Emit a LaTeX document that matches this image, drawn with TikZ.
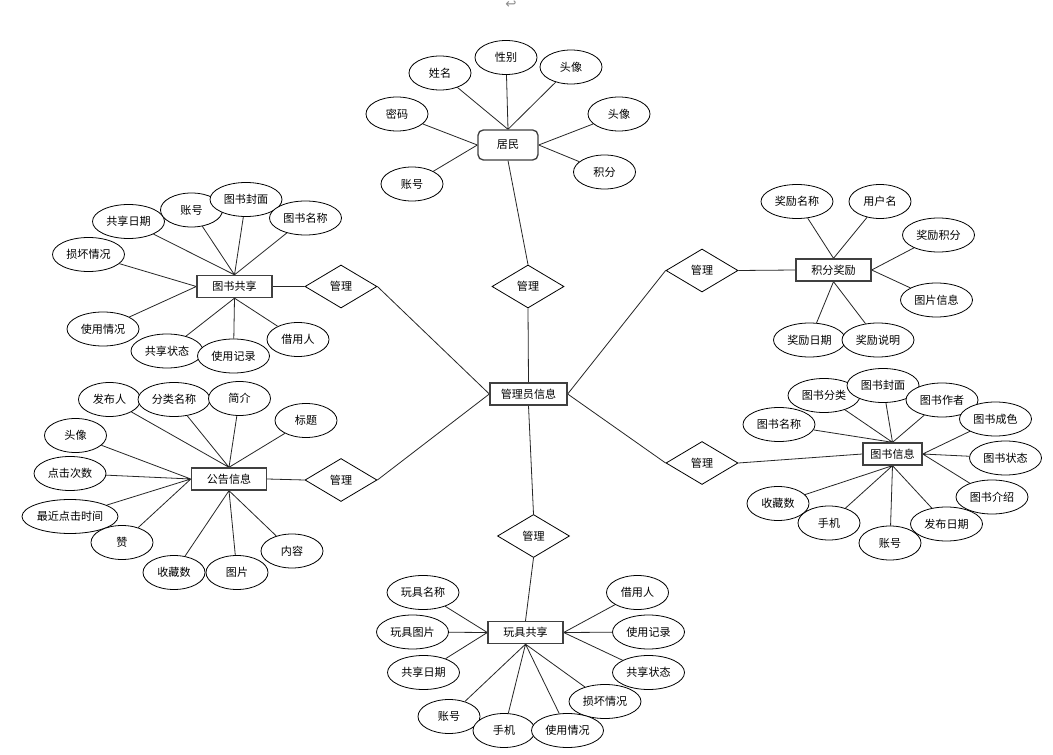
\documentclass[tikz,border=0pt]{standalone}
\usepackage{fontspec}
\newfontfamily\cjk{Noto Sans CJK SC}
\newfontfamily\symf{DejaVu Sans}
\usetikzlibrary{shapes.geometric}
\pgfdeclarelayer{back}
\pgfdeclarelayer{bg}
\pgfsetlayers{back,bg,main}
\begin{document}
\begin{tikzpicture}[x=0.75pt,y=-0.75pt,
  every node/.style={font=\cjk\fontsize{8.3}{9}\selectfont,text=black},
  att/.style={ellipse,draw=black,line width=0.6pt,inner sep=0pt,minimum width=46.5pt,minimum height=25.5pt,fill=white},
  attw/.style={att,minimum width=54pt},
  ent/.style={rectangle,draw=black!75,line width=1pt,inner sep=0pt,minimum width=56.25pt,minimum height=16.5pt,fill=white},
  rel/.style={diamond,draw=black,line width=0.6pt,inner sep=0pt,minimum width=54pt,minimum height=32.25pt,fill=white},
  link/.style={draw=black!85,line width=0.6pt}]
\useasboundingbox (0,0) rectangle (1053,755);
\begin{pgfonlayer}{back}
\fill[white] (0,0) rectangle (1053,755);
\end{pgfonlayer}
\node[font=\symf\fontsize{10}{10}\selectfont,text=black!45,inner sep=0pt] (ret) at (511,5) {↩};

% resident
\node[ent,rounded corners=4pt,minimum width=45pt,minimum height=22.5pt] (jm) at (508,145) {居民};
\node[att] (a1) at (506,57.5) {性别};
\node[att] (a2) at (440,73) {姓名};
\node[att] (a3) at (571,67) {头像};
\node[att] (a4) at (397,114) {密码};
\node[att] (a5) at (619,114) {头像};
\node[att] (a6) at (604.5,172) {积分};
\node[att] (a7) at (412,184) {账号};

% admin
\node[rel] (r1) at (528,286.5) {管理};
\node[ent,minimum width=57.75pt] (ad) at (528.5,394) {管理员信息};

% book share
\node[ent] (ts) at (234.5,286.5) {图书共享};
\node[rel] (r2) at (341,286.5) {管理};
\node[attw] (b1) at (128.5,221.5) {共享日期};
\node[att] (b2) at (191.5,210) {账号};
\node[attw] (b3) at (246,199.5) {图书封面};
\node[attw] (b4) at (305.5,218) {图书名称};
\node[attw] (b5) at (88.5,254.5) {损坏情况};
\node[attw] (b6) at (103,329) {使用情况};
\node[attw] (b7) at (167,351) {共享状态};
\node[attw] (b8) at (233.5,356) {使用记录};
\node[att] (b9) at (298,339.5) {借用人};

% notice
\node[ent] (gg) at (229,479) {公告信息};
\node[rel] (r3) at (341,480) {管理};
\node[att] (c1) at (109.5,399.5) {发布人};
\node[attw] (c2) at (174,399.5) {分类名称};
\node[att] (c3) at (239.5,398.5) {简介};
\node[att] (c4) at (306,420.5) {标题};
\node[att] (c5) at (75.5,435.5) {头像};
\node[attw] (c6) at (70,473.5) {点击次数};
\node[att,minimum width=72pt] (c7) at (70,516.5) {最近点击时间};
\node[att] (c8) at (122,542.5) {赞};
\node[att] (c9) at (174,572.5) {收藏数};
\node[att] (c10) at (237,572.5) {图片};
\node[att] (c11) at (292,551) {内容};

% points reward
\node[ent] (jf) at (833.5,270) {积分奖励};
\node[rel] (r4) at (702,270.5) {管理};
\node[attw] (d1) at (797,201.5) {奖励名称};
\node[att] (d2) at (880,201.5) {用户名};
\node[attw] (d3) at (938.5,235) {奖励积分};
\node[attw] (d4) at (936.5,300) {图片信息};
\node[attw] (d5) at (809.5,340) {奖励日期};
\node[attw] (d6) at (878,340) {奖励说明};

% book info
\node[ent,minimum width=44.25pt] (bi) at (892.5,454) {图书信息};
\node[rel] (r5) at (702,463) {管理};
\node[attw] (e1) at (779,424.5) {图书名称};
\node[attw] (e2) at (824,395.5) {图书分类};
\node[attw] (e3) at (883,385.5) {图书封面};
\node[attw] (e4) at (942,400) {图书作者};
\node[attw] (e5) at (995.5,419) {图书成色};
\node[attw] (e6) at (1005.5,458) {图书状态};
\node[attw] (e7) at (992,497) {图书介绍};
\node[att] (e8) at (778,503.5) {收藏数};
\node[att] (e9) at (829,523) {手机};
\node[attw] (e11) at (946.5,524) {发布日期};
\node[att] (e10) at (890,543) {账号};

% toy share
\node[rel] (r6) at (533.5,536) {管理};
\node[ent] (wj) at (525.5,632.5) {玩具共享};
\node[attw] (f1) at (423,592.5) {玩具名称};
\node[attw] (f2) at (412.5,632) {玩具图片};
\node[attw] (f3) at (423.5,672.5) {共享日期};
\node[att] (f4) at (449,716.5) {账号};
\node[att] (f5) at (504,730.5) {手机};
\node[attw] (f7) at (605,701.5) {损坏情况};
\node[attw] (f6) at (567.5,730.5) {使用情况};
\node[att] (f8) at (637.5,592.5) {借用人};
\node[attw] (f9) at (648.5,632) {使用记录};
\node[attw] (f10) at (648.5,672.5) {共享状态};

\begin{pgfonlayer}{bg}
\path[link] (jm.north) -- (a1) (jm.north) -- (a2) (jm.north) -- (a3)
  (jm.west) -- (a4) (jm.west) -- (a7) (jm.east) -- (a5) (jm.east) -- (a6)
  (jm.south) -- (r1.north) (r1.south) -- (ad.north);
\path[link] (ad.west) -- (r2.east) (ad.west) -- (r3.east)
  (ad.east) -- (r4.west) (ad.east) -- (r5.west)
  (ad.south) -- (r6.north) (r6.south) -- (wj.north);
\path[link] (ts.north) -- (b1) (ts.north) -- (b2) (ts.north) -- (b3) (ts.north) -- (b4)
  (ts.west) -- (b5) (ts.west) -- (b6)
  (ts.south) -- (b7) (ts.south) -- (b8) (ts.south) -- (b9)
  (ts.east) -- (r2.west);
\path[link] (gg.north) -- (c1) (gg.north) -- (c2) (gg.north) -- (c3) (gg.north) -- (c4)
  (gg.west) -- (c5) (gg.west) -- (c6) (gg.west) -- (c7) (gg.west) -- (c8)
  (gg.south) -- (c9) (gg.south) -- (c10) (gg.south) -- (c11)
  (gg.east) -- (r3.west);
\path[link] (jf.north) -- (d1) (jf.north) -- (d2) (jf.east) -- (d3) (jf.east) -- (d4)
  (jf.south) -- (d5) (jf.south) -- (d6) (r4.east) -- (jf.west);
\path[link] (bi.north) -- (e1) (bi.north) -- (e2) (bi.north) -- (e3) (bi.north) -- (e4)
  (bi.east) -- (e5) (bi.east) -- (e6) (bi.east) -- (e7)
  (bi.south) -- (e8) (bi.south) -- (e9) (bi.south) -- (e10) (bi.south) -- (e11)
  (r5.east) -- (bi.west);
\path[link] (wj.west) -- (f1) (wj.west) -- (f2) (wj.west) -- (f3)
  (wj.south) -- (f4) (wj.south) -- (f5) (wj.south) -- (f6) (wj.south) -- (f7)
  (wj.east) -- (f8) (wj.east) -- (f9) (wj.east) -- (f10);
\end{pgfonlayer}
\end{tikzpicture}
\end{document}
